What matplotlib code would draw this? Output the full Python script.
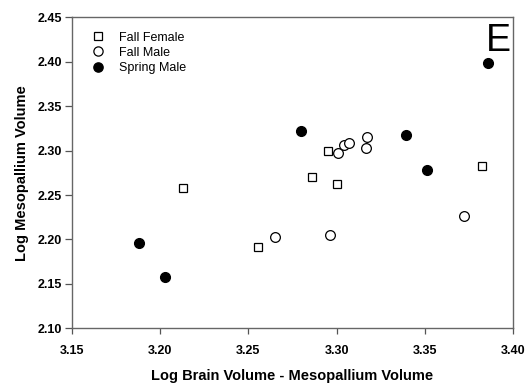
import matplotlib
matplotlib.use("Agg")
import matplotlib.pyplot as plt

plt.rcParams['font.family'] = ['Liberation Sans', 'DejaVu Sans']

# Fall Female
ff_x = [3.213, 3.2555, 3.286, 3.295, 3.300, 3.3826]
ff_y = [2.258, 2.192, 2.270, 2.300, 2.262, 2.283]

# Fall Male
fm_x = [3.265, 3.2965, 3.301, 3.304, 3.307, 3.317, 3.3165, 3.372]
fm_y = [2.203, 2.205, 2.297, 2.306, 2.308, 2.315, 2.303, 2.226]

# Spring Male
sm_x = [3.188, 3.2025, 3.280, 3.3395, 3.351, 3.386]
sm_y = [2.196, 2.158, 2.322, 2.317, 2.278, 2.399]

x_ticks = [3.15, 3.20, 3.25, 3.30, 3.35, 3.40]
y_ticks = [2.10, 2.15, 2.20, 2.25, 2.30, 2.35, 2.40, 2.45]

fig = plt.figure(figsize=(5.28, 3.84), dpi=100)
ax = fig.add_axes([0.136, 0.145, 0.836, 0.810])

ax.plot(ff_x, ff_y, 's', ms=6.3, mfc='white', mec='black', mew=0.9,
        ls='none', label='Fall Female')
ax.plot(fm_x, fm_y, 'o', ms=7, mfc='white', mec='black', mew=0.9,
        ls='none', label='Fall Male')
ax.plot(sm_x, sm_y, 'o', ms=7, mfc='black', mec='black',
        ls='none', label='Spring Male')

ax.set_xlim(3.15, 3.40)
ax.set_ylim(2.10, 2.45)
ax.set_xticks(x_ticks)
ax.set_yticks(y_ticks)
ax.set_xticklabels([f'{v:.2f}' for v in x_ticks], fontsize=9, fontweight='bold')
ax.set_yticklabels([f'{v:.2f}' for v in y_ticks], fontsize=9, fontweight='bold')
ax.tick_params(axis='x', direction='out', length=4, width=0.9, color='#555555', pad=8)
ax.tick_params(axis='y', direction='out', length=5, width=0.9, color='#555555', pad=2)

for s in ax.spines.values():
    s.set_color('#666666')
    s.set_linewidth(1.0)

ax.set_xlabel('Log Brain Volume - Mesopallium Volume', fontsize=10.5,
              fontweight='bold', labelpad=9)
ax.set_ylabel('Log Mesopallium Volume', fontsize=10.5, fontweight='bold',
              labelpad=6)

ax.legend(loc='upper left', bbox_to_anchor=(0.005, 0.99), frameon=False,
          fontsize=9, handletextpad=0.68, borderaxespad=0.5,
          labelspacing=0.25, markerscale=0.95)

ax.text(0.995, 0.982, 'E', transform=ax.transAxes, ha='right', va='top',
        fontsize=27)

fig.savefig('out.png', dpi=100, facecolor='white')
